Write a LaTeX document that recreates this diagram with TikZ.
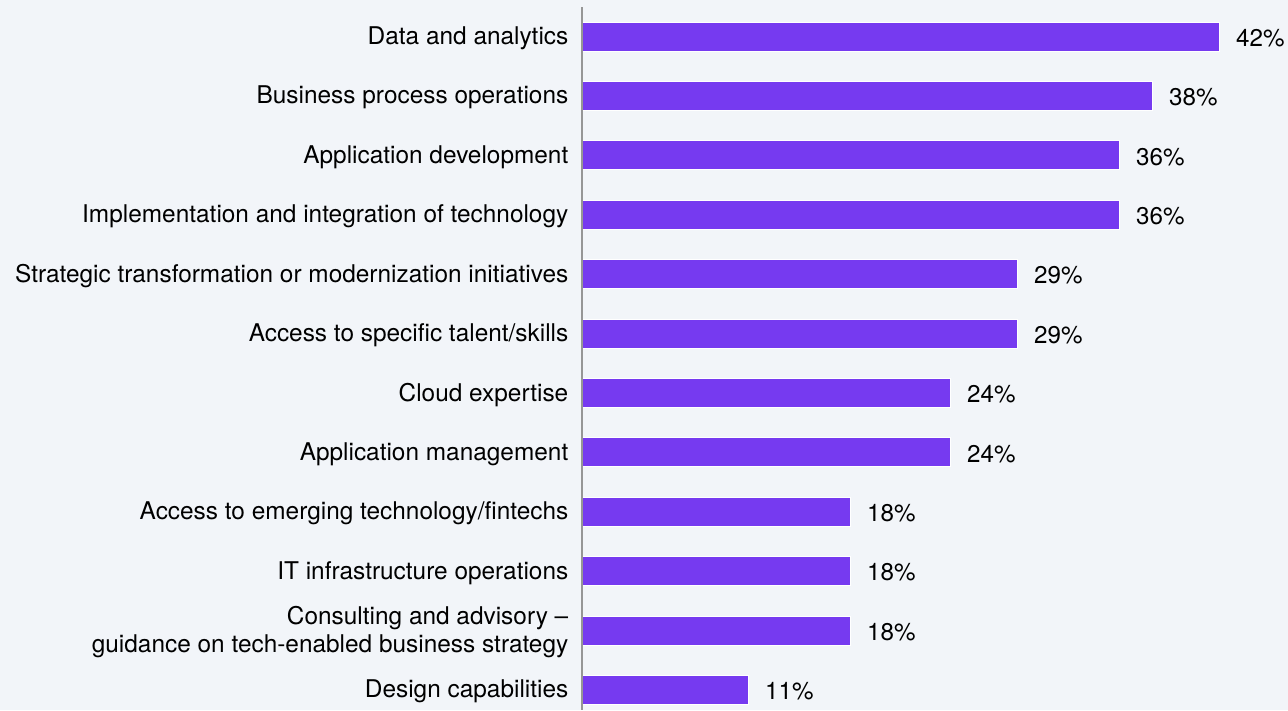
\documentclass[tikz,border=0pt]{standalone}
\usepackage{fontspec}
\setmainfont{TeX Gyre Heros}
\definecolor{bg}{RGB}{242,245,249}
\definecolor{barc}{RGB}{118,58,240}
\definecolor{axisc}{RGB}{150,150,150}
\begin{document}
\begin{tikzpicture}[x=1pt,y=-1pt,
  bar/.style={fill=barc,draw=white,line width=1pt,minimum height=29pt,inner sep=0pt,anchor=west},
  cat/.style={anchor=east,inner sep=0pt,align=right,yshift=-1.8pt,font=\fontsize{24.4}{28}\selectfont},
  val/.style={anchor=west,inner sep=0pt,yshift=-1.5pt,font=\fontsize{24.2}{28}\selectfont}]
\fill[bg] (0,0) rectangle (1288,710);
\useasboundingbox (0,0) rectangle (1288,710);
\coordinate (axtop) at (581.5,7);
\coordinate (axbot) at (581.5,710);
\foreach \i/\w/\lab/\v in {
 1/637/{Data and analytics}/42\%,
 2/570/{Business process operations}/38\%,
 3/537/{Application development}/36\%,
 4/537/{Implementation and integration of technology}/36\%,
 5/435/{Strategic transformation or modernization initiatives}/29\%,
 6/435/{Access to specific talent/skills}/29\%,
 7/368/{Cloud expertise}/24\%,
 8/368/{Application management}/24\%,
 9/268/{Access to emerging technology/fintechs}/18\%,
 10/268/{IT infrastructure operations}/18\%,
 11/268/{Consulting and advisory –\\guidance on tech-enabled business strategy}/18\%,
 12/166/{Design capabilities}/11\%}{
  \pgfmathsetmacro{\yc}{36.5+59.4*(\i-1)}
  \node[bar,minimum width=\w pt] (b\i) at (582,\yc) {};
  \node[cat] (c\i) at (568.5,\yc) {\lab};
  \node[val] (v\i) at ([xshift=16pt]b\i.east) {\v};
}
\draw[axisc,line width=2pt] (axtop) -- (axbot);
\end{tikzpicture}
\end{document}
